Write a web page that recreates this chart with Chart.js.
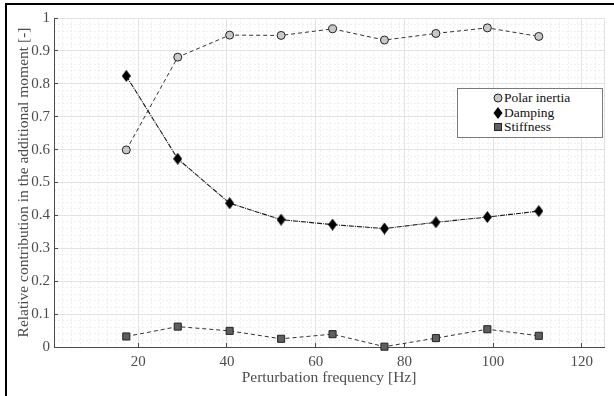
<!DOCTYPE html>
<html>
<head>
<meta charset="utf-8">
<script src="https://cdn.jsdelivr.net/npm/chart.js@4.4.1/dist/chart.umd.min.js"></script>
<style>
  body { margin: 0; background: #fff; }
  #wrap { position: relative; width: 614px; height: 396px; overflow: hidden; }
  #frame { position: absolute; left: 5px; top: 3px; width: 800px; height: 600px;
           border-left: 2px solid #000; border-top: 2px solid #000; pointer-events: none; }
  #legend { position: absolute; left: 457px; top: 88px; width: 144px; height: 46px;
            border: 1px solid #7a7a7a; background: #fff; padding-top: 2px; box-sizing: content-box;
            font-family: "Liberation Serif", "Times New Roman", Times, "DejaVu Serif", "Noto Serif", serif;
            font-size: 13.5px; color: #111; }
  #legend .row { height: 14.5px; line-height: 14.5px; display: flex; align-items: center; padding-left: 34px; }
  #legend svg { width: 12px; height: 14px; }
</style>
</head>
<body>
<div id="wrap">
  <canvas id="chart" width="614" height="396"></canvas>
  <div id="legend"></div>
  <div id="frame"></div>
</div>
<script>
// perturbation frequency [Hz]
var freq = [17.3, 28.9, 40.6, 52.2, 63.8, 75.5, 87.1, 98.7, 110.3];

var polarInertia = [0.599, 0.881, 0.948, 0.947, 0.967, 0.933, 0.953, 0.970, 0.944];
var damping      = [0.824, 0.572, 0.437, 0.387, 0.372, 0.360, 0.379, 0.395, 0.413];
var stiffness    = [0.032, 0.062, 0.049, 0.025, 0.039, 0.001, 0.027, 0.054, 0.034];

var seriesNames = ['Polar inertia', 'Damping', 'Stiffness'];
var xTicks = [20, 40, 60, 80, 100, 120];
var yTicks = [0, 0.1, 0.2, 0.3, 0.4, 0.5, 0.6, 0.7, 0.8, 0.9, 1];

var serif = "'Liberation Serif', 'Times New Roman', Times, 'DejaVu Serif', 'Noto Serif', serif";
var textGray = '#4d4d4d';
var axisGray = '#4a4a4a';
var majorGrid = '#e3e3e3';
var minorGrid = '#efefef';

// taller diamond marker than the built-in rectRot
var diamond = document.createElement('canvas');
diamond.width = 9; diamond.height = 12;
var dctx = diamond.getContext('2d');
dctx.fillStyle = '#000';
dctx.beginPath();
dctx.moveTo(4.5, 0); dctx.lineTo(9, 6); dctx.lineTo(4.5, 12); dctx.lineTo(0, 6);
dctx.closePath(); dctx.fill();

function pts(ys) {
    return freq.map(function (f, i) { return {x: f, y: ys[i]}; });
}

var ctx = document.getElementById('chart').getContext('2d');

var chart = new Chart(ctx, {
    type: 'line',
    data: {
        datasets: [{
            label: seriesNames[0],
            data: pts(polarInertia),
            borderColor: '#333',
            borderWidth: 1,
            borderDash: [4, 3],
            pointStyle: 'circle',
            pointRadius: 4,
            pointBackgroundColor: '#c8c8c8',
            pointBorderColor: '#222',
            pointBorderWidth: 1,
        }, {
            label: seriesNames[1],
            data: pts(damping),
            borderColor: '#1a1a1a',
            borderWidth: 1.1,
            borderDash: [5, 1, 1, 1],
            pointStyle: diamond,
        }, {
            label: seriesNames[2],
            data: pts(stiffness),
            borderColor: '#333',
            borderWidth: 1,
            borderDash: [4, 3],
            pointStyle: 'rect',
            pointRadius: 5,
            pointBackgroundColor: '#5f5f5f',
            pointBorderColor: '#222',
            pointBorderWidth: 1,
        }]
    },
    options: {
        responsive: false,
        animation: false,
        devicePixelRatio: 1,
        clip: false,
        layout: { padding: { left: 6, top: 18, right: 6, bottom: 0 } },
        elements: { line: { tension: 0 } },
        plugins: { legend: { display: false }, tooltip: { enabled: false } },
        scales: {
            xMinor: {
                type: 'linear', position: 'bottom', min: 1, max: 125,
                ticks: { display: false, stepSize: 2, maxTicksLimit: 200 },
                grid: { color: minorGrid, drawTicks: false, z: -2 },
                border: { display: false, dash: [2, 2] },
                afterFit: function (s) { s.height = 0; }
            },
            yMinor: {
                type: 'linear', position: 'left', min: 0, max: 1,
                ticks: { display: false, stepSize: 0.02, maxTicksLimit: 200 },
                grid: { color: minorGrid, drawTicks: false, z: -2 },
                border: { display: false, dash: [2, 2] },
                afterFit: function (s) { s.width = 0; }
            },
            x: {
                type: 'linear', position: 'bottom', min: 1, max: 125,
                afterBuildTicks: function (s) {
                    s.ticks = [1].concat(xTicks, [125]).map(function (v) { return {value: v}; });
                },
                ticks: {
                    autoSkip: false, maxRotation: 0, padding: 10, color: textGray,
                    font: { family: serif, size: 15 },
                    callback: function (v) { return xTicks.indexOf(v) >= 0 ? String(v) : ''; }
                },
                grid: {
                    color: majorGrid, tickLength: -4,
                    tickColor: function (c) { return c.tick && xTicks.indexOf(c.tick.value) >= 0 ? axisGray : 'rgba(0,0,0,0)'; }
                },
                border: { color: axisGray, width: 1 },
                title: {
                    display: true, text: 'Perturbation frequency [Hz]', color: textGray,
                    font: { family: serif, size: 15.5 }, padding: { top: 0, bottom: 9 }
                },
                afterFit: function (s) { s.height = 49; }
            },
            y: {
                type: 'linear', position: 'left', min: 0, max: 1,
                afterBuildTicks: function (s) {
                    s.ticks = yTicks.map(function (v) { return {value: v}; });
                },
                ticks: {
                    padding: 8, color: textGray,
                    font: { family: serif, size: 15 },
                    callback: function (v) { return String(v); }
                },
                grid: { color: majorGrid, tickLength: -4, tickColor: axisGray },
                border: { color: axisGray, width: 1 },
                title: {
                    display: true, text: 'Relative contribution in the additional moment [-]', color: textGray,
                    font: { family: serif, size: 15.5 }, padding: { top: 9, bottom: 0 }
                },
                afterFit: function (s) { s.width = 48; }
            }
        }
    }
});

// legend box drawn as html, markers match the dataset styles
var legendMarks = [
    '<circle cx="6" cy="7" r="4" fill="#c8c8c8" stroke="#222" stroke-width="1"/>',
    '<polygon points="6,1 10.5,7 6,13 1.5,7" fill="#000"/>',
    '<rect x="2.5" y="3.5" width="7" height="7" fill="#5f5f5f" stroke="#222" stroke-width="1"/>'
];
var legend = document.getElementById('legend');
seriesNames.forEach(function (name, i) {
    var row = document.createElement('div');
    row.className = 'row';
    row.innerHTML = '<svg viewBox="0 0 12 14">' + legendMarks[i] + '</svg><span>' + name + '</span>';
    legend.appendChild(row);
});
</script>
</body>
</html>
